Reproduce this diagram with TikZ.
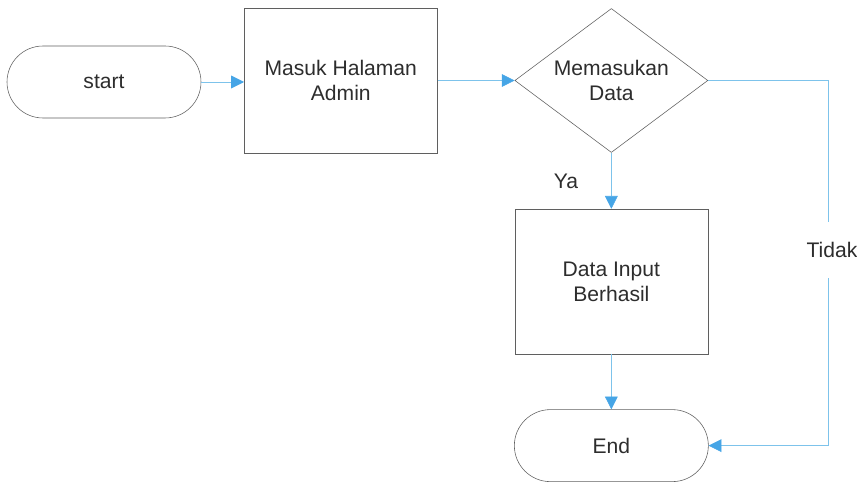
\documentclass[tikz,border=0pt]{standalone}
\usepackage{fontspec}
\setmainfont{Liberation Sans}
\usetikzlibrary{positioning, arrows.meta, shapes.geometric}

\definecolor{linkblue}{RGB}{125,195,235}
\definecolor{tipblue}{RGB}{70,165,230}
\definecolor{edgegray}{RGB}{95,95,95}
\definecolor{textgray}{RGB}{45,45,45}

\begin{document}
\begin{tikzpicture}[
        term/.style={
            rounded corners=0.9cm, draw=edgegray, thin,
            minimum width=4.85cm, minimum height=1.8cm,
            font=\fontsize{15}{17.5}\selectfont, text=textgray
        },
        proc/.style={
            draw=edgegray, thin, align=center,
            minimum width=4.825cm, minimum height=3.625cm,
            font=\fontsize{15}{17.5}\selectfont, text=textgray
        },
        decide/.style={
            diamond, draw=edgegray, thin, align=center,
            shape aspect=1.34, inner sep=0pt,
            minimum width=4.825cm, minimum height=3.6cm,
            font=\fontsize{15}{17.5}\selectfont, text=textgray
        },
        link/.style={
            draw=linkblue, thin,
            -{Triangle[length=0.32cm, width=0.32cm, color=tipblue, fill=tipblue]}
        },
        lbl/.style={font=\fontsize{15}{17.5}\selectfont, text=textgray}
    ]

    \useasboundingbox (0,0) rectangle (21.425,-12.05);

    % start
    \node[term] (t1) at (2.6,-2.05) {start};

    % Masuk Halaman Admin
    \node[proc, anchor=west] (p1) at (6.1,-2.0125)
        {Masuk Halaman\\Admin};

    % Memasukan Data
    \node[decide, right=1.925cm of p1] (d1)
        {Memasukan\\Data};

    % Data Input Berhasil
    \node[proc, below=1.4cm of d1] (p2)
        {Data Input\\Berhasil};

    % End
    \node[term, below=1.375cm of p2] (t2) {End};

    \coordinate (c1) at (20.7,0);

    \draw[link] (t1) -- (t1 -| p1.west);
    \draw[link] (p1) -- (d1);
    \draw[link] (d1) -- (p2);
    \draw[link] (p2) -- (t2);
    \draw[link] (d1.east) -| (c1 |- t2.east) -- (t2.east);

    % labels
    \node[lbl] (ya) at (14.15,-4.525) {Ya};
    \node[lbl, fill=white, inner xsep=1pt, inner ysep=0.5cm] (tidak)
        at (20.8,-6.25) {Tidak};

    \end{tikzpicture}
\end{document}
